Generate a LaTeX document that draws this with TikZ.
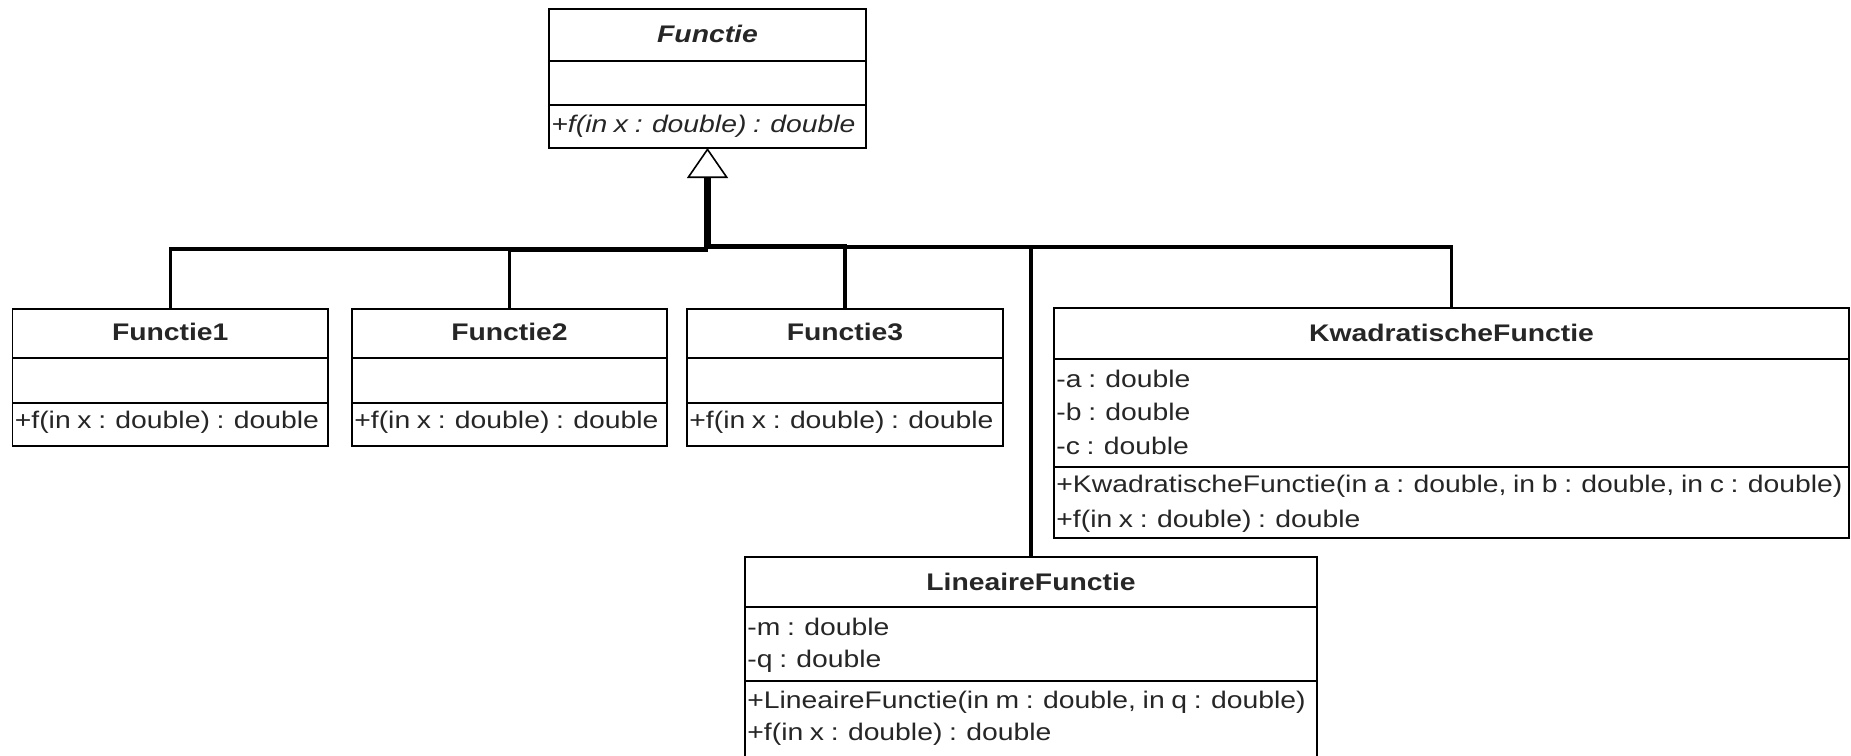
\documentclass[tikz,border=0pt]{standalone}
\usepackage{fontspec}
\setmainfont{Liberation Sans}[FakeStretch=1.18, WordSpace=0.85]
\usetikzlibrary{arrows.meta}

% one drawing unit = one pixel of the layout grid, y grows downwards
\tikzset{
  classbox/.style={draw=black, line width=0.8pt, fill=white, inner sep=0pt,
                   outer sep=0pt, anchor=north west},
  compsep/.style={draw=black, line width=0.8pt},
  classname/.style={font=\fontsize{12pt}{14pt}\selectfont\bfseries, text=black!85,
                    anchor=base, inner sep=0pt},
  member/.style={font=\fontsize{12pt}{14pt}\selectfont, text=black!85,
                 anchor=base west, inner sep=0pt, xshift=1pt},
  gen/.style={draw=black, line width=1.6pt, shorten >=15pt},
  gentip/.style={draw=black, line width=1.6pt,
                 -{Triangle[fill=white, length=15pt, width=20.5pt, line width=0.8pt]}},
}

% class rectangle: name, left, top, right, bottom
\newcommand\classnode[5]{%
  \node[classbox, minimum width={(#4-#2)*0.5pt}, minimum height={(#5-#3)*0.5pt}] (#1) at (#2,#3) {};}
% horizontal compartment separator: class name, row
\newcommand\compline[2]{%
  \draw[compsep] (#1.west |- 0,#2) -- (#1.east |- 0,#2);}

\begin{document}
\begin{tikzpicture}[x=0.5pt, y=-0.5pt]
  \fill[white] (0,0) rectangle (1851,755);
  \clip (0,0) rectangle (1851,755);

  % abstract base class
  \classnode{fn}{549}{9}{866}{148}
  \compline{fn}{61}
  \compline{fn}{105}
  \node[classname, font=\fontsize{12pt}{14pt}\selectfont\bfseries\itshape] (fnt) at (fn.north |- 0,42) {Functie};
  \node[member, font=\fontsize{12pt}{14pt}\selectfont\itshape] (fnm) at (fn.west |- 0,132) {+f(in x : double) : double};

  % concrete subclasses
  \classnode{f1}{12.5}{309}{328}{446}
  \compline{f1}{358}
  \compline{f1}{403}
  \node[classname] (f1t) at (f1.north |- 0,340) {Functie1};
  \node[member] (f1m) at (f1.west |- 0,428) {+f(in x : double) : double};

  \classnode{f2}{352}{309}{667}{446}
  \compline{f2}{358}
  \compline{f2}{403}
  \node[classname] (f2t) at (f2.north |- 0,340) {Functie2};
  \node[member] (f2m) at (f2.west |- 0,428) {+f(in x : double) : double};

  \classnode{f3}{687}{309}{1003}{446}
  \compline{f3}{358}
  \compline{f3}{403}
  \node[classname] (f3t) at (f3.north |- 0,340) {Functie3};
  \node[member] (f3m) at (f3.west |- 0,428) {+f(in x : double) : double};

  \classnode{kf}{1054}{308}{1849}{538}
  \compline{kf}{359}
  \compline{kf}{467}
  \node[classname] (kft) at (kf.north |- 0,341) {KwadratischeFunctie};
  \node[member] (kfa) at (kf.west |- 0,387) {-a : double};
  \node[member] (kfb) at (kf.west |- 0,420.5) {-b : double};
  \node[member] (kfc) at (kf.west |- 0,454) {-c : double};
  \node[member] (kfk) at (kf.west |- 0,492) {+KwadratischeFunctie(in a : double, in b : double, in c : double)};
  \node[member] (kff) at (kf.west |- 0,527) {+f(in x : double) : double};

  \classnode{lf}{745}{557}{1317}{762}
  \compline{lf}{607}
  \compline{lf}{681}
  \node[classname] (lft) at (lf.north |- 0,590) {LineaireFunctie};
  \node[member] (lfm) at (lf.west |- 0,635) {-m : double};
  \node[member] (lfq) at (lf.west |- 0,667) {-q : double};
  \node[member] (lfk) at (lf.west |- 0,708) {+LineaireFunctie(in m : double, in q : double)};
  \node[member] (lff) at (lf.west |- 0,740) {+f(in x : double) : double};

  % bends where each generalization joins the shared trunk
  \coordinate (b1) at (705.5,249);
  \coordinate (b2) at (706.5,250.5);
  \coordinate (b3) at (709.5,245.5);
  \coordinate (b4) at (707.5,247);
  \coordinate (b5) at (707.5,247);

  % generalizations, all ending under one hollow triangle
  \draw[gen] (f1.north) |- (b1) -- (b1 |- fn.south);
  \draw[gen] (f2.north) |- (b2) -- (b2 |- fn.south);
  \draw[gen] (f3.north) |- (b3) -- (b3 |- fn.south);
  \draw[gen] (lf.north) |- (b4) -- (b4 |- fn.south);
  \draw[gentip] (kf.north) |- (b5) -- (fn.south);
\end{tikzpicture}
\end{document}
